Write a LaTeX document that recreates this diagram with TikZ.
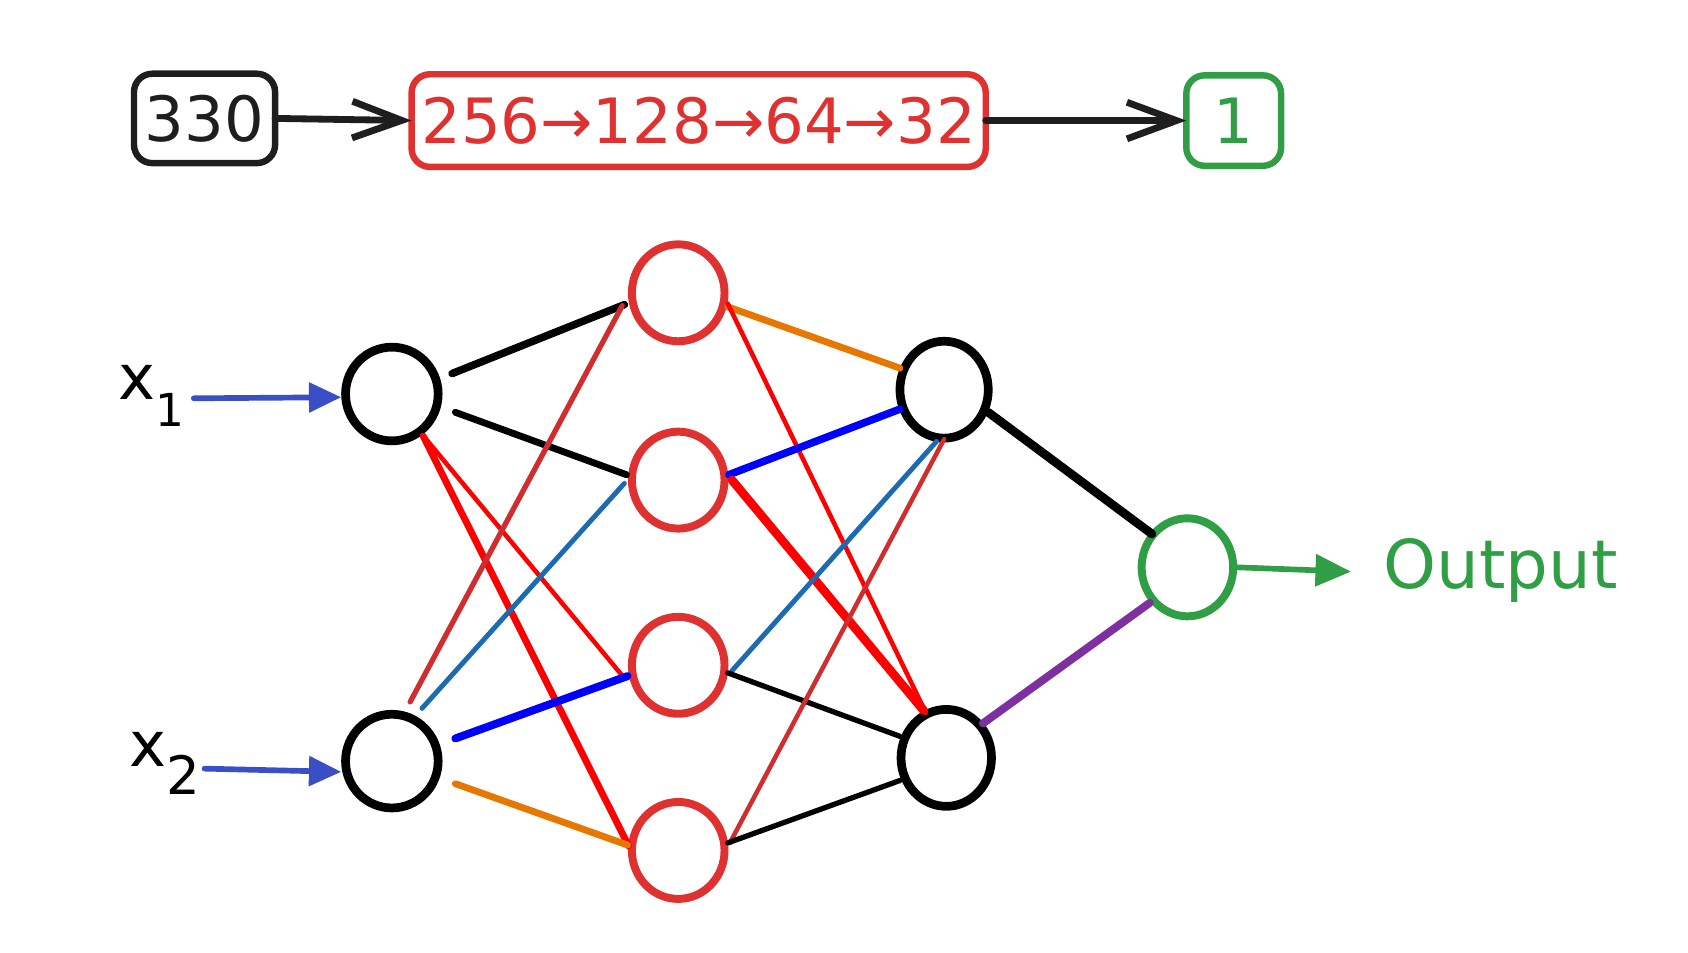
\documentclass[tikz,border=0pt]{standalone}
\usepackage{fontspec}
\setmainfont{DejaVu Sans}
\usetikzlibrary{arrows.meta,calc,shapes.geometric}

\definecolor{ink}{HTML}{1E1E1E}
\definecolor{exred}{HTML}{E03131}
\definecolor{exgreen}{HTML}{2F9E44}
\definecolor{inblue}{HTML}{3A4FC6}
\definecolor{wred}{HTML}{FF0000}
\definecolor{wbrick}{HTML}{CF2E2E}
\definecolor{wsteel}{HTML}{1C6BB0}
\definecolor{wblue}{HTML}{0000FF}
\definecolor{worange}{HTML}{E67700}
\definecolor{wpurple}{HTML}{7E2FA0}

\begin{document}
\begin{tikzpicture}[x=0.01cm,y=-0.01cm,line cap=round,line join=round,
  every node/.style={inner sep=0pt,outer sep=0pt},
  box/.style={draw,line width=1.7pt,rounded corners=0.17cm},
  neuron/.style={ellipse,draw,line width=2.3pt},
  blackn/.style={neuron,draw=black,minimum width=0.86cm,minimum height=0.87cm},
  redn/.style={neuron,draw=exred,line width=2.1pt,minimum width=0.86cm,minimum height=0.90cm},
  greenn/.style={neuron,draw=exgreen,line width=2.1pt,minimum width=0.85cm,minimum height=0.91cm},
  toparrow/.style={draw=ink,line width=1.8pt,-{Straight Barb[length=0.46cm,width=0.34cm]}},
  inarrow/.style={draw=inblue,line width=1.5pt,-{Triangle[length=0.30cm,width=0.27cm]}},
  outarrow/.style={draw=exgreen,line width=1.5pt,-{Triangle[length=0.33cm,width=0.29cm]}},
  txt/.style={font=\fontsize{16.5pt}{19pt}\selectfont}]

\useasboundingbox (0,0) rectangle (1568,885);

% layer sizes along the top
\node[box,draw=ink,minimum width=1.31cm,minimum height=0.83cm,txt,text=ink] (b330) at (190,110) {330};
\node[box,draw=exred,minimum width=5.33cm,minimum height=0.86cm,txt,text=exred] (bhid) at (649,112) {256→128→64→32};
\node[box,draw=exgreen,minimum width=0.88cm,minimum height=0.84cm,txt,text=exgreen] (bone) at (1146,112) {1};
\draw[toparrow] (b330.east) -- (bhid.west);
\draw[toparrow] (bhid.east) -- (bone.west);

% neurons
\node[blackn] (x1) at (364,366) {};
\node[blackn] (x2) at (364,707) {};
\node[redn] (h1) at (630,272) {};
\node[redn] (h2) at (630,446) {};
\node[redn] (h3) at (630,618) {};
\node[redn] (h4) at (630,790) {};
\node[blackn,minimum width=0.82cm,minimum height=0.90cm] (o1) at (877,362) {};
\node[blackn,minimum width=0.84cm,minimum height=0.90cm] (o2) at (879,704) {};
\node[greenn] (out) at (1103,527) {};

% inputs
\node[txt,text=black] (lx1) at (141,368) {x\raisebox{-0.8ex}{\fontsize{12pt}{14pt}\selectfont 1}};
\node[txt,text=black] (lx2) at (153,709) {x\raisebox{-0.8ex}{\fontsize{14pt}{16pt}\selectfont 2}};
\coordinate (x1s) at (180,370);
\coordinate (x2s) at (190,714);
\draw[inarrow] (x1s) -- ($(x1)+(-47,3)$);
\draw[inarrow] (x2s) -- ($(x2)+(-47,10)$);

% input -> first hidden layer
\draw[black,line width=2.0pt] ($(x1)+(56,-19)$) -- ($(h1)+(-50,11)$);
\draw[black,line width=1.8pt] ($(x1)+(59,17)$) -- ($(h2)+(-48,-5)$);
\draw[wred,line width=1.2pt] ($(x1)+(31,41)$) -- ($(h3)+(-50,12)$);
\draw[wred,line width=1.8pt] ($(x1)+(29,39)$) -- ($(h4)+(-46,-4)$);
\draw[wbrick,line width=1.4pt] ($(x2)+(17,-55)$) -- ($(h1)+(-52,12)$);
\draw[wsteel,line width=1.3pt] ($(x2)+(28,-49)$) -- ($(h2)+(-50,3)$);
\draw[wblue,line width=2.1pt] ($(x2)+(59,-21)$) -- ($(h3)+(-47,10)$);
\draw[worange,line width=1.8pt] ($(x2)+(59,21)$) -- ($(h4)+(-47,-5)$);

% first hidden -> second hidden layer
\draw[worange,line width=1.8pt] ($(h1)+(46,13)$) -- ($(o1)+(-41,-20)$);
\draw[wred,line width=1.2pt] ($(h1)+(46,10)$) -- ($(o2)+(-19,-42)$);
\draw[wblue,line width=2.0pt] ($(h2)+(47,-5)$) -- ($(o1)+(-41,18)$);
\draw[wred,line width=2.3pt] ($(h2)+(50,0)$) -- ($(o2)+(-21,-44)$);
\draw[wsteel,line width=1.3pt] ($(h3)+(50,5)$) -- ($(o1)+(-7,48)$);
\draw[black,line width=1.4pt] ($(h3)+(46,7)$) -- ($(o2)+(-43,-20)$);
\draw[wbrick,line width=1.2pt] ($(h4)+(48,-7)$) -- ($(o1)+(0,46)$);
\draw[black,line width=1.4pt] ($(h4)+(46,-7)$) -- ($(o2)+(-43,21)$);

% second hidden -> output
\draw[black,line width=2.3pt] ($(o1)+(41,21)$) -- ($(out)+(-33,-31)$);
\draw[wpurple,line width=2.1pt] ($(o2)+(34,-32)$) -- ($(out)+(-35,33)$);

% output
\coordinate (otip) at (1255,531);
\draw[outarrow] ($(out)+(46,0)$) -- (otip);
\node[text=exgreen,anchor=west,font=\fontsize{17.8pt}{20pt}\selectfont] (lout) at (1285,530) {Output};
\end{tikzpicture}
\end{document}
